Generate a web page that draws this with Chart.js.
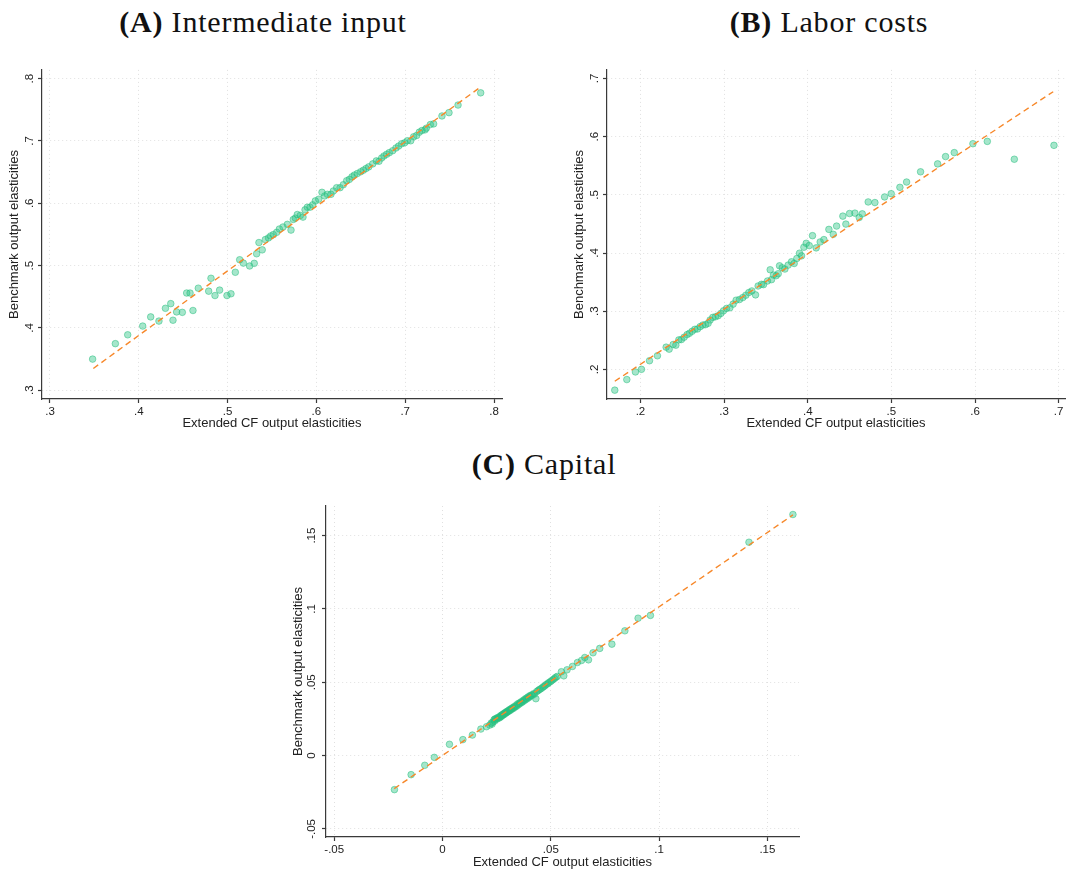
<!DOCTYPE html>
<html>
<head>
<meta charset="utf-8">
<script src="https://cdn.jsdelivr.net/npm/chart.js@4.4.1/dist/chart.umd.min.js"></script>
<style>
  body { margin: 0; background: #fff; width: 1085px; height: 873px; overflow: hidden; position: relative; }
  .ttl { position: absolute; text-align: center; font-family: 'Liberation Serif', serif; font-size: 30px; letter-spacing: 0.8px; color: #111; line-height: 1; }
  .ttl b { font-weight: bold; }
  canvas { position: absolute; }
</style>
</head>
<body>
<div class="ttl" style="left:0;width:526px;top:7px;"><b>(A)</b> Intermediate input</div>
<div class="ttl" style="left:573px;width:512px;top:7px;"><b>(B)</b> Labor costs</div>
<div class="ttl" style="left:344px;width:400px;top:449px;"><b>(C)</b> Capital</div>
<canvas id="chartA" width="520" height="380" style="left:0;top:60px;"></canvas>
<canvas id="chartB" width="520" height="380" style="left:565px;top:60px;"></canvas>
<canvas id="chartC" width="540" height="380" style="left:284px;top:499px;"></canvas>
<script>
// (A) Intermediate input
const xA = [0.348,0.3736,0.3875,0.4044,0.4134,0.4227,0.430,0.436,0.4385,0.4426,0.449,0.4539,0.4577,0.461,0.467,0.4787,0.4813,0.4858,0.491,0.4993,
  0.5038,0.5087,0.5136,0.5177,0.5248,0.530,0.5327,0.5353,0.539,0.5425,0.546,0.5485,0.5515,0.5553,0.5583,0.5624,0.5673,0.5714,0.574,0.5763,
  0.5785,0.5819,0.5849,0.5872,0.5898,0.5928,0.5958,0.5988,0.6026,0.6063,0.6093,0.6123,0.6164,0.6191,0.6228,0.6266,0.6303,0.6341,0.6371,0.6401,
  0.6427,0.6461,0.6498,0.6529,0.6559,0.6589,0.6634,0.6675,0.6705,0.6735,0.6761,0.6791,0.6821,0.6859,0.6896,0.6926,0.696,0.6994,0.7024,0.7062,
  0.7095,0.7129,0.7159,0.7189,0.7223,0.7238,0.7283,0.732,0.7414,0.7493,0.7595,0.785];
const yA = [0.350,0.3748,0.389,0.403,0.4177,0.411,0.4315,0.439,0.4124,0.4257,0.425,0.456,0.456,0.428,0.4638,0.459,0.4797,0.452,0.4607,0.452,
  0.4548,0.4893,0.5094,0.504,0.4994,0.5036,0.519,0.537,0.5253,0.5418,0.5444,0.5476,0.5497,0.5534,0.5587,0.562,0.5662,0.557,0.5741,0.5762,
  0.582,0.5805,0.5778,0.5895,0.5937,0.5937,0.5975,0.6038,0.6065,0.6176,0.6118,0.6144,0.6144,0.6197,0.625,0.625,0.6298,0.6362,0.6383,0.6425,
  0.6452,0.6478,0.6505,0.6531,0.6558,0.6584,0.6632,0.668,0.6674,0.6727,0.6759,0.6786,0.6812,0.6844,0.6887,0.6918,0.6955,0.6971,0.7003,0.7003,
  0.7067,0.7088,0.7141,0.7168,0.7178,0.7205,0.7263,0.7274,0.7401,0.7454,0.7576,0.7772];
const fitXA = [0.3488, 0.785];
const fitYA = [0.335, 0.7867];
const ticksA = [0.3, 0.4, 0.5, 0.6, 0.7, 0.8];
const labelsA = ['.3', '.4', '.5', '.6', '.7', '.8'];

// (B) Labor costs
const xB = [0.1693,0.1837,0.194,0.2012,0.2108,0.2203,0.2307,0.2343,0.2391,0.2423,0.2459,0.249,0.2522,0.2558,0.2586,0.2618,0.265,0.2682,0.2714,0.2746,
  0.2778,0.2809,0.2833,0.2865,0.2897,0.2929,0.2961,0.2993,0.3029,0.3069,0.3108,0.3144,0.3184,0.3224,0.326,0.3296,0.3332,0.3376,0.3407,0.3447,
  0.3471,0.3519,0.3551,0.3567,0.3591,0.3623,0.3647,0.3663,0.3695,0.3727,0.3766,0.3806,0.3838,0.387,0.3902,0.3926,0.3954,0.3982,0.4018,0.4057,
  0.4101,0.4149,0.4193,0.4253,0.4305,0.4345,0.4456,0.442,0.45,0.4564,0.4616,0.4652,0.4723,0.4803,0.4919,0.4998,0.5102,0.5182,0.5349,0.5553,
  0.5648,0.5752,0.5975,0.6147,0.647,0.6944];
const yB = [0.1642,0.1824,0.1955,0.2,0.2148,0.2233,0.2381,0.2347,0.2427,0.2415,0.2506,0.2512,0.2552,0.2597,0.262,0.2654,0.2688,0.2694,0.2734,0.2762,
  0.2768,0.2791,0.2848,0.2893,0.2904,0.2922,0.2961,0.3007,0.3047,0.3058,0.3121,0.3189,0.32,0.3234,0.3274,0.332,0.3348,0.328,0.3433,0.3462,
  0.3456,0.3519,0.3712,0.3542,0.3621,0.361,0.3644,0.378,0.3746,0.3724,0.3792,0.3849,0.382,0.3906,0.3997,0.3951,0.4099,0.4167,0.4127,0.4298,
  0.4088,0.419,0.423,0.4406,0.4321,0.4463,0.4497,0.4634,0.4679,0.4685,0.4611,0.4673,0.4878,0.4867,0.4964,0.502,0.5129,0.522,0.5396,0.5532,
  0.5658,0.5726,0.5879,0.5919,0.5612,0.5851];
const fitXB = [0.1693, 0.6935];
const fitYB = [0.1795, 0.6773];
const ticksB = [0.2, 0.3, 0.4, 0.5, 0.6, 0.7];
const labelsB = ['.2', '.3', '.4', '.5', '.6', '.7'];

// (C) Capital
const xC = [-0.0222,-0.0145,-0.0082,-0.0038,0.0032,0.0094,0.0138,0.0177,0.0203,0.0218,0.0229,0.0242,
  0.0225,0.0232,0.0238,0.0241,0.0246,0.0250,0.0254,0.0257,0.0261,0.0264,0.0267,0.0270,0.0272,0.0275,0.0278,0.0280,
  0.0283,0.0286,0.0288,0.0291,0.0294,0.0296,0.0299,0.0302,0.0305,0.0308,0.0311,0.0314,0.0317,0.0320,0.0323,0.0327,
  0.0330,0.0334,0.0338,0.0342,0.0346,0.0350,0.0354,0.0358,0.0362,0.0366,0.0370,0.0374,0.0378,0.0382,0.0386,0.0390,
  0.0394,0.0398,0.0402,0.0406,0.0410,0.0415,0.0420,0.0425,0.0431,0.0435,0.0441,0.0447,0.0453,0.0460,0.0466,0.0472,
  0.0478,0.0485,0.0490,0.0497,0.0503,0.0510,0.0517,0.0523,0.0530,
  0.0549,0.056,0.0575,0.06,0.0623,0.0642,0.0657,0.0674,0.0695,0.0726,0.0782,0.0842,0.0903,0.096,0.1415,0.1618];
const yC = [-0.0232,-0.013,-0.0066,-0.0012,0.0077,0.0109,0.014,0.0181,0.0197,0.0208,0.0215,0.0249,
  0.0222,0.0228,0.0245,0.0236,0.0252,0.0248,0.0259,0.0254,0.0263,0.0258,0.0270,0.0265,0.0276,0.0272,0.0281,0.0277,
  0.0287,0.0282,0.0292,0.0289,0.0297,0.0293,0.0303,0.0299,0.0308,0.0305,0.0315,0.0310,0.0320,0.0317,0.0326,0.0322,
  0.0333,0.0330,0.0341,0.0337,0.0352,0.0346,0.0358,0.0355,0.0366,0.0362,0.0374,0.0371,0.0383,0.0379,0.0391,0.0387,
  0.0399,0.0395,0.0407,0.0404,0.0413,0.0411,0.0422,0.0420,0.0388,0.0437,0.0443,0.0450,0.0455,0.0462,0.0470,0.0475,
  0.0484,0.0490,0.0497,0.0503,0.0510,0.0518,0.0526,0.0534,0.0540,
  0.0572,0.0544,0.0585,0.0608,0.0635,0.0649,0.0669,0.0653,0.0701,0.0731,0.076,0.0851,0.0937,0.0956,0.1455,0.1644];
const fitXC = [-0.0223, 0.1618];
const fitYC = [-0.0225, 0.1641];
const ticksC = [-0.05, 0, 0.05, 0.1, 0.15];
const labelsC = ['-.05', '0', '.05', '.1', '.15'];

const SANS = "'Liberation Sans', Arial, sans-serif";
const AXIS_COLOR = '#3a3a3a';

function pts(xs, ys) {
  return xs.map((x, i) => ({ x, y: ys[i] }));
}

function axis(range, ticks, labels, isY, tickPad, size) {
  return {
    type: 'linear',
    min: range[0],
    max: range[1],
    afterBuildTicks: (s) => { s.ticks = ticks.map(v => ({ value: v })); },
    afterFit: (s) => { if (isY) s.width = size; else s.height = size; },
    ticks: {
      callback: (v, i) => labels[i],
      autoSkip: false,
      color: '#222',
      font: { family: SANS, size: 11.5 },
      padding: tickPad,
      minRotation: isY ? 90 : 0,
      maxRotation: isY ? 90 : 0,
      crossAlign: isY ? 'center' : 'near',
    },
    grid: { color: '#e0e0e0', lineWidth: 1, tickColor: AXIS_COLOR, tickLength: 4, tickWidth: 1.2 },
    border: { color: AXIS_COLOR, width: 1.2, dash: [1, 3] },
    title: {
      display: true,
      text: isY ? 'Benchmark output elasticities' : 'Extended CF output elasticities',
      color: '#222',
      font: { family: SANS, size: 13 },
      padding: isY ? { top: 7 } : { bottom: 9 },
    },
  };
}

function draw(id, xs, ys, fx, fy, xr, yr, xt, xl, yt, yl, cfg) {
  new Chart(document.getElementById(id), {
    type: 'scatter',
    data: {
      datasets: [
        {
          type: 'line',
          data: pts(fx, fy),
          borderColor: '#f7882a',
          borderWidth: 1.4,
          borderDash: [6, 4],
          pointRadius: 0,
          fill: false,
        },
        {
          data: pts(xs, ys),
          backgroundColor: 'rgba(40,195,130,0.42)',
          borderColor: 'rgba(40,190,125,0.5)',
          borderWidth: 1,
          pointRadius: 3.3,
        },
      ],
    },
    options: {
      responsive: false,
      animation: false,
      devicePixelRatio: 1,
      layout: { padding: { left: 0, top: 7, right: cfg.right, bottom: 0 } },
      plugins: { legend: { display: false }, tooltip: { enabled: false } },
      scales: {
        x: axis(xr, xt, xl, false, 2, cfg.xh),
        y: axis(yr, yt, yl, true, cfg.ypad, 42),
      },
    },
  });
}

draw('chartA', xA, yA, fitXA, fitYA, [0.291, 0.809], [0.286, 0.814], ticksA, labelsA, ticksA, labelsA, { right: 18, xh: 41, ypad: 3 });
draw('chartB', xB, yB, fitXB, fitYB, [0.16, 0.7076], [0.149, 0.7148], ticksB, labelsB, ticksB, labelsB, { right: 20, xh: 41, ypad: 3 });
draw('chartC', xC, yC, fitXC, fitYC, [-0.0538, 0.1646], [-0.0555, 0.1702], ticksC, labelsC, ticksC, labelsC, { right: 25, xh: 42, ypad: 0 });
</script>
</body>
</html>
